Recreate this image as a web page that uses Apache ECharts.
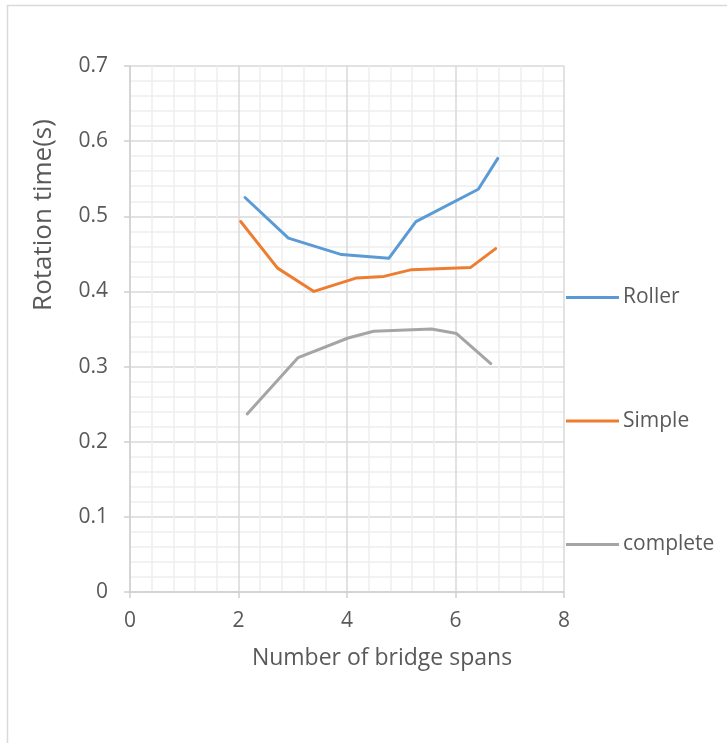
<!DOCTYPE html>
<html>
<head>
<meta charset="utf-8">
<script src="https://cdn.jsdelivr.net/npm/echarts@6/dist/echarts.min.js"></script>
<style>
  html, body { margin: 0; padding: 0; background: #fff; }
  #chart { width: 727px; height: 743px; }
</style>
</head>
<body>
<div id="chart"></div>
<script>
// Rotation time against number of bridge spans, per support condition
const rollerX = [2.12, 2.92, 3.90, 4.77, 5.27, 6.42, 6.78];
const rollerY = [0.525, 0.471, 0.449, 0.444, 0.493, 0.536, 0.577];

const simpleX = [2.04, 2.72, 3.39, 4.18, 4.68, 5.19, 6.28, 6.74];
const simpleY = [0.493, 0.431, 0.400, 0.418, 0.420, 0.429, 0.432, 0.457];

const completeX = [2.16, 3.10, 4.02, 4.49, 5.56, 6.02, 6.65];
const completeY = [0.237, 0.312, 0.338, 0.347, 0.350, 0.344, 0.304];

const seriesNames = ['Roller', 'Simple', 'complete'];
const seriesColors = ['#5B9BD5', '#ED7D31', '#A5A5A5'];
const xAxisTitle = 'Number of bridge spans';
const yAxisTitle = 'Rotation time(s)';

const pairs = (xs, ys) => xs.map((x, i) => [x, ys[i]]);
const seriesData = [pairs(rollerX, rollerY), pairs(simpleX, simpleY), pairs(completeX, completeY)];

const FONT = 'Open Sans';
const TEXT = '#595959';

const chart = echarts.init(document.getElementById('chart'), null, { renderer: 'canvas' });
chart.setOption({
  backgroundColor: '#ffffff',
  animation: false,
  textStyle: { fontFamily: FONT },
  grid: { left: 130, top: 66, right: 163, bottom: 151, containLabel: false },
  xAxis: {
    type: 'value', min: 0, max: 8, interval: 2,
    axisLine: { show: true, onZero: false, lineStyle: { color: '#d0d0d0', width: 1.5 } },
    axisTick: { show: true, length: 6, lineStyle: { color: '#d0d0d0', width: 1.5 } },
    axisLabel: { color: TEXT, fontSize: 21, fontFamily: FONT, margin: 19 },
    splitLine: { show: true, lineStyle: { color: '#d9d9d9', width: 1.5 } },
    minorTick: { show: false, splitNumber: 5 },
    minorSplitLine: { show: true, lineStyle: { color: '#eeeeee', width: 1.5 } }
  },
  yAxis: {
    type: 'value', min: 0, max: 0.7, interval: 0.1,
    axisLine: { show: true, onZero: false, lineStyle: { color: '#d0d0d0', width: 1.5 } },
    axisTick: { show: true, length: 6, lineStyle: { color: '#d0d0d0', width: 1.5 } },
    axisLabel: { color: TEXT, fontSize: 21, fontFamily: FONT, margin: 22 },
    splitLine: { show: true, lineStyle: { color: '#d9d9d9', width: 1.5 } },
    minorTick: { show: false, splitNumber: 5 },
    minorSplitLine: { show: true, lineStyle: { color: '#eeeeee', width: 1.5 } }
  },
  legend: {
    orient: 'vertical',
    left: 566, top: 287, padding: 0,
    itemWidth: 53, itemHeight: 14, itemGap: 102.5,
    icon: 'path://M0,5.5 L53,5.5 L53,8.5 L0,8.5 Z',
    textStyle: { color: TEXT, fontSize: 21, fontFamily: FONT, padding: [0, 0, 0, -1] },
    data: seriesNames
  },
  graphic: [
    {
      type: 'rect', silent: true, z: -10,
      shape: { x: 7.5, y: 5.5, width: 760, height: 780 },
      style: { fill: 'none', stroke: '#d9d9d9', lineWidth: 1.5 }
    },
    {
      type: 'text', silent: true,
      x: 382, y: 658,
      style: { text: xAxisTitle, fill: TEXT, fontSize: 23, fontFamily: FONT, align: 'center', verticalAlign: 'middle' }
    },
    {
      type: 'text', silent: true,
      x: 44, y: 215, rotation: Math.PI / 2,
      style: { text: yAxisTitle, fill: TEXT, fontSize: 26, fontFamily: FONT, align: 'center', verticalAlign: 'middle' }
    }
  ],
  series: seriesNames.map((name, i) => ({
    name,
    type: 'line',
    data: seriesData[i],
    symbol: 'none',
    smooth: false,
    color: seriesColors[i],
    lineStyle: { color: seriesColors[i], width: 3, cap: 'round', join: 'round' },
    z: 10
  }))
});
</script>
</body>
</html>
